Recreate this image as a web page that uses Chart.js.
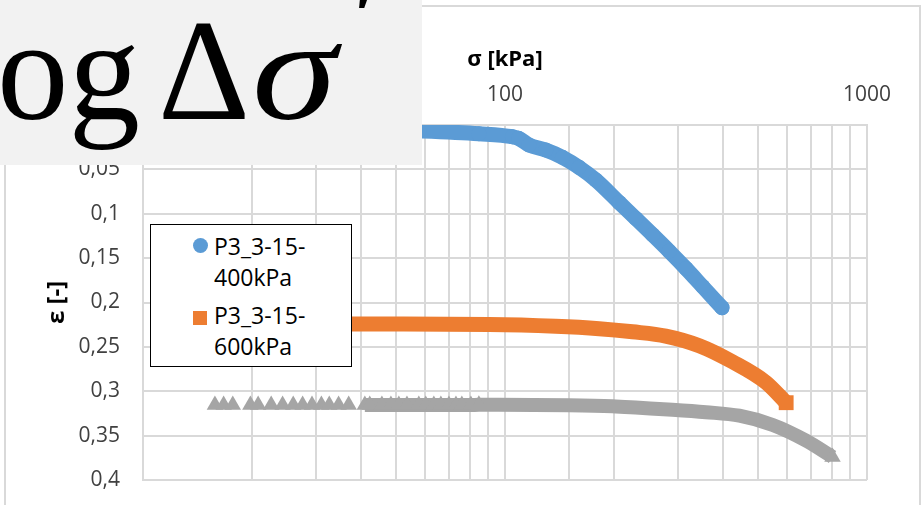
<!DOCTYPE html>
<html><head><meta charset="utf-8">
<script src="https://cdn.jsdelivr.net/npm/chart.js@4/dist/chart.umd.min.js"></script>
<style>
html,body{margin:0;padding:0;background:#fff;}
#wrap{position:relative;width:924px;height:505px;overflow:hidden;}
#frame{position:absolute;left:4px;top:5px;width:917px;height:600px;border:2px solid #d9d9d9;box-sizing:border-box;}
#c{position:absolute;left:0;top:0;}
#eq{position:absolute;left:0;top:0;width:422px;height:165px;background:#f2f2f2;overflow:hidden;font-family:"Liberation Serif","DejaVu Serif",serif;color:#000;}
#eq span{position:absolute;top:0px;font-size:143px;line-height:143px;white-space:nowrap;}
#legend{position:absolute;left:150px;top:224px;width:202px;height:143px;box-sizing:border-box;border:1.5px solid #000;background:#fff;font-family:"Open Sans",sans-serif;font-size:23px;color:#000;}
#legend .mk{position:absolute;}
#legend .tx{position:absolute;left:63px;line-height:31px;white-space:nowrap;}
</style>
</head><body>
<div id="wrap">
<div id="frame"></div>
<canvas id="c" width="924" height="505"></canvas>
<div id="eq"><span style="left:-3px">og</span><span style="left:158px">Δ</span><span style="left:252px;font-style:italic;transform:scaleX(1.2);transform-origin:0 0">σ</span><span style="left:352px;top:-50px">′</span></div>
<div id="legend"></div>
</div>
<script>
// ---- data ----
const xTitle = 'σ [kPa]';
const yTitle = 'ε [-]';
const xMajorTicks = [10, 100, 1000];
const seriesNames = ['P3_3-15-400kPa', 'P3_3-15-600kPa', 'P3_3-15-800kPa'];

const sigma400 = [15.8, 30.0, 57.8, 84.7, 104.8, 109, 116.5, 129.6, 144.1, 160.2, 178.2, 206.7, 229.9, 255.6, 284.2, 316.2, 351.4, 397.6];
const eps400   = [0.001, 0.003, 0.0065, 0.0098, 0.0132, 0.015, 0.0225, 0.0282, 0.0364, 0.0477, 0.0620, 0.0873, 0.1054, 0.1236, 0.1422, 0.1617, 0.1820, 0.2058];

const sigma600 = [15.8, 25.0, 37.8, 90.3, 138, 182, 225, 278, 344, 425, 526, 598];
const eps600   = [0.222, 0.2235, 0.2242, 0.2248, 0.2268, 0.2295, 0.2330, 0.2378, 0.2487, 0.2668, 0.2901, 0.3129];

const sigma800 = [15.8, 16.7, 17.7, 19.8, 20.8, 22.6, 24.3, 26.0, 27.6, 29.3, 31.1, 32.7, 34.7, 37.0,
                  41.0, 42.3, 45.7, 48.4, 50.9, 53.6, 57.8, 60.4, 63.6, 66.5, 70.0, 73.2, 76.0, 80.5, 84.7,
                  96.2, 150, 198, 235, 290, 359, 444, 549, 679, 803];
const eps800   = [0.3155, 0.3155, 0.3155, 0.3155, 0.3155, 0.3155, 0.3155, 0.3155, 0.3155, 0.3155, 0.3155, 0.3155, 0.3155, 0.3155,
                  0.3156, 0.3155, 0.3156, 0.3155, 0.3156, 0.3155, 0.3156, 0.3155, 0.3156, 0.3155, 0.3156, 0.3155, 0.3156, 0.3155, 0.3153,
                  0.3152, 0.3158, 0.3170, 0.3187, 0.3208, 0.3236, 0.3276, 0.3380, 0.3557, 0.3741];

const colors = ['#5b9bd5', '#ed7d31', '#a5a5a5'];
const grayLineFrom = 40;   // gray markers are separate below this stress
const grayMarkersUpTo = 90;

function pts(xs, ys){ return xs.map((x,i)=>({x:x, y:ys[i]})); }

const datasets = [
  {label: seriesNames[0], data: pts(sigma400, eps400), showLine:true, borderColor:colors[0], backgroundColor:colors[0],
   borderWidth:15, borderCapStyle:'round', borderJoinStyle:'round', pointStyle:'circle', pointRadius:7.5, pointBorderWidth:0,
   cubicInterpolationMode:'monotone', inLegend:true},
  {label: seriesNames[1], data: pts(sigma600, eps600), showLine:true, borderColor:colors[1], backgroundColor:colors[1],
   borderWidth:15, borderCapStyle:'butt', borderJoinStyle:'round', pointStyle:'rect', pointBorderWidth:0,
   pointRadius: c => c.dataIndex === sigma600.length-1 ? 10.5 : 0,
   cubicInterpolationMode:'monotone', inLegend:true},
  {label: seriesNames[2], data: pts(sigma800, eps800), showLine:true, borderColor:colors[2], backgroundColor:colors[2],
   borderWidth:14, borderCapStyle:'butt', borderJoinStyle:'round', pointStyle:'triangle', pointBorderWidth:0,
   pointRadius: c => (c.raw && (c.raw.x <= grayMarkersUpTo || c.dataIndex === sigma800.length-1)) ? 9.5 : 0,
   segment:{borderColor: c => c.p0.parsed.x < grayLineFrom ? 'rgba(0,0,0,0)' : colors[2]},
   cubicInterpolationMode:'monotone', inLegend:false}
];

const tickFont = {family:'"Open Sans", sans-serif', size:21};
const titleFont = {family:'"Open Sans", sans-serif', size:22, weight:'bold'};
const yTitleFont = {family:'"Open Sans", sans-serif', size:24, weight:'bold'};

new Chart(document.getElementById('c'), {
  type:'scatter',
  data:{datasets:datasets},
  options:{
    responsive:false, animation:false, events:[],
    layout:{padding:{left:0, right:57, top:0, bottom:25}},
    plugins:{legend:{display:false}, tooltip:{enabled:false}},
    scales:{
      x:{type:'logarithmic', position:'top', min:10, max:1000,
         afterFit: s => { s.height = 125; s.paddingLeft = 0; s.paddingRight = 0; },
         grid:{color:'#d9d9d9', lineWidth:2, drawTicks:false},
         border:{color:'#d9d9d9', width:2},
         ticks:{autoSkip:false, maxRotation:0, padding:17, color:'#404040', font:tickFont,
                callback: v => xMajorTicks.includes(Math.round(v)) ? String(Math.round(v)) : ''},
         title:{display:true, text:xTitle, color:'#000', font:titleFont, padding:{top:47, bottom:0}}},
      y:{type:'linear', reverse:true, min:0, max:0.4,
         afterFit: s => { s.width = 143; s.paddingTop = 0; s.paddingBottom = 0; },
         grid:{color:'#d9d9d9', lineWidth:2, drawTicks:false},
         border:{color:'#d9d9d9', width:2},
         ticks:{stepSize:0.05, padding:23, color:'#404040', font:tickFont,
                callback: v => String(Math.round(v*100)/100).replace('.', ',')},
         title:{display:true, text:yTitle, color:'#000', font:yTitleFont, padding:{top:43, bottom:0}}}
    }
  }
});

// HTML legend built from the datasets (wrapped like the original)
const lg = document.getElementById('legend');
const tops = [6, 75];
datasets.filter(d=>d.inLegend).forEach((d,i)=>{
  const mk = document.createElement('div');
  mk.className = 'mk';
  if (d.pointStyle === 'circle') {
    mk.style.cssText = 'left:42px;top:'+(tops[i]+7)+'px;width:15px;height:15px;border-radius:50%;background:'+d.borderColor;
  } else {
    mk.style.cssText = 'left:42px;top:'+(tops[i]+11)+'px;width:14px;height:14px;background:'+d.borderColor;
  }
  lg.appendChild(mk);
  const tx = document.createElement('div');
  tx.className = 'tx';
  tx.style.top = tops[i]+'px';
  const m = d.label.match(/^(.*-)(\d+kPa)$/);
  tx.appendChild(document.createTextNode(m[1]));
  tx.appendChild(document.createElement('br'));
  tx.appendChild(document.createTextNode(m[2]));
  lg.appendChild(tx);
});
</script>
</body></html>
